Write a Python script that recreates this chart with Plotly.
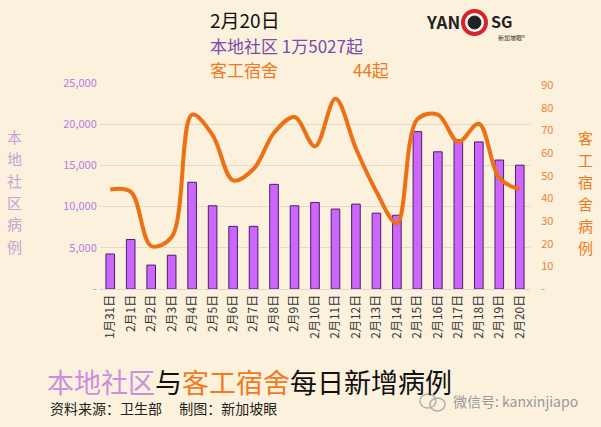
import plotly.graph_objects as go

dates = ["1月31日", "2月1日", "2月2日", "2月3日", "2月4日", "2月5日", "2月6日", "2月7日",
         "2月8日", "2月9日", "2月10日", "2月11日", "2月12日", "2月13日", "2月14日",
         "2月15日", "2月16日", "2月17日", "2月18日", "2月19日", "2月20日"]
community = [4250, 6000, 2900, 4100, 12950, 10100, 7600, 7600, 12700, 10100, 10500,
             9700, 10300, 9200, 8950, 19100, 16650, 18100, 17850, 15650, 15027]
dorm = [44, 43, 19, 23, 77, 68, 48, 53, 69, 76, 63,
        84, 62, 43, 29, 75, 77, 65, 73, 49, 44]

left_ticks = [0, 5000, 10000, 15000, 20000, 25000]
left_ticktext = ["-", "5,000", "10,000", "15,000", "20,000", "25,000"]
right_ticks = [0, 10, 20, 30, 40, 50, 60, 70, 80, 90]
right_ticktext = ["-", "10", "20", "30", "40", "50", "60", "70", "80", "90"]

FONT = "Noto Sans CJK SC"
BG = "#FBF1DC"
PURPLE = "#CC66FF"
ORANGE = "#EE7015"

fig = go.Figure()
fig.add_trace(go.Bar(x=dates, y=community, marker=dict(color=PURPLE, line=dict(color="#4A1F66", width=1)),
                     width=0.42, yaxis="y"))
fig.add_trace(go.Scatter(x=dates, y=dorm, mode="lines", line=dict(color=ORANGE, width=4, shape="spline", smoothing=1.0),
                         yaxis="y2"))

fig.update_layout(
    width=601, height=427,
    margin=dict(l=100, r=71, t=83, b=138),
    paper_bgcolor=BG, plot_bgcolor=BG,
    showlegend=False,
    font=dict(family=FONT),
    xaxis=dict(tickangle=-90, tickfont=dict(size=12, color="#333333", family=FONT),
               showgrid=False, linecolor="#E2D6C2", showline=True, ticks=""),
    yaxis=dict(range=[0, 25000], tickvals=left_ticks, ticktext=left_ticktext,
               tickfont=dict(size=11, color="#B57BE6", family=FONT),
               gridcolor="#E6DAC6", gridwidth=1, zeroline=False, ticklen=0,
               ticks="outside", tickcolor="rgba(0,0,0,0)"),
    yaxis2=dict(range=[0, 91], overlaying="y", side="right", tickvals=right_ticks, ticktext=right_ticktext,
                tickfont=dict(size=11, color="#E9843A", family=FONT), showgrid=False, zeroline=False,
                ticks="outside", ticklen=8, tickcolor="rgba(0,0,0,0)"),
)

ann = []
def px(xp, yp):
    # convert pixel coords to paper coords
    return (xp - 100) / 430.0, (427 - 138 - yp) / 206.0

def txt(xp, yp, s, size, color, xanchor="left", yanchor="middle"):
    x, y = px(xp, yp)
    ann.append(dict(x=x, y=y, xref="paper", yref="paper", text=s, showarrow=False, borderpad=0,
                    font=dict(size=size, color=color, family=FONT), xanchor=xanchor, yanchor=yanchor))

def circle(x0, y0, x1, y1, line, width, fill):
    fig.add_shape(type="circle", xref="paper", yref="paper",
                  x0=(x0 - 100) / 430, x1=(x1 - 100) / 430,
                  y0=(289 - y1) / 206, y1=(289 - y0) / 206,
                  line=dict(color=line, width=width), fillcolor=fill)

txt(209, 20, "2月20日", 19, "#111111")
txt(209, 45, "本地社区 1万5027起", 17, "#7A4AAE")
txt(209, 69, "客工宿舍", 17, "#EE7A22")
txt(390, 69, "44起", 17, "#EE7A22", xanchor="right")

# logo
txt(461, 22, "<b>YAN</b>", 17, "#222222", xanchor="right")
txt(490, 21, "<b>SG</b>", 16, "#222222")
txt(526, 37, "新加坡眼®", 6, "#333333", xanchor="right")
circle(463, 11, 486, 34, "#D8232A", 4, "#FFFFFF")
circle(468, 16, 481, 29, "#222222", 1, "#222222")

# axis titles (vertical stacked characters)
for i, ch in enumerate("本地社区病例"):
    txt(14, 136 + i * 22, ch, 15, "#C8A2D8", xanchor="center")
for i, ch in enumerate("客工宿舍病例"):
    txt(585, 137 + i * 22, ch, 15, "#EE7A22", xanchor="center")

# bottom title
txt(46, 381,
    "<span style='color:#CC8FE0'>本地社区</span><span style='color:#111111'>与</span>"
    "<span style='color:#F07A1E'>客工宿舍</span><span style='color:#111111'>每日新增病例</span>",
    27, "#111111")
txt(49, 408, "资料来源：卫生部　 制图：新加坡眼", 14, "#222222")

# watermark
circle(420, 394, 436, 408, "#B0B0B0", 1.5, "rgba(0,0,0,0)")
circle(430, 398, 445, 411, "#B0B0B0", 1.5, "rgba(0,0,0,0)")
txt(452, 401, "微信号: kanxinjiapo", 14, "#9A9A9A")

fig.update_layout(annotations=ann)
fig.write_html("out.html")
